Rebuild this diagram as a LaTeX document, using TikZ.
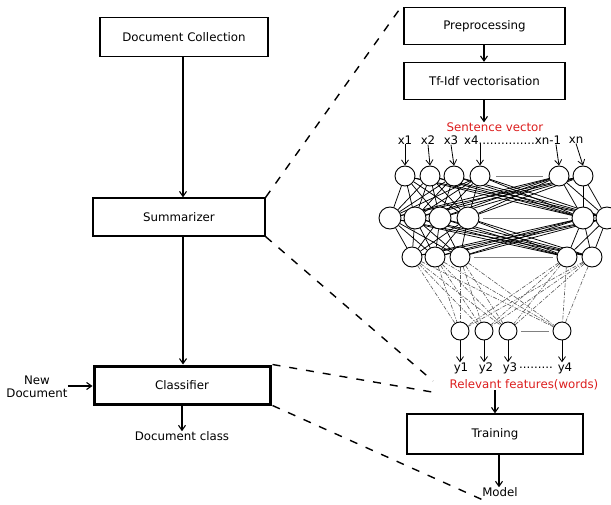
\documentclass[tikz,border=0pt]{standalone}
\usepackage{fontspec}
\setmainfont{DejaVu Sans}
\usetikzlibrary{arrows.meta}
\definecolor{redtxt}{RGB}{220,30,30}
\begin{document}
\begin{tikzpicture}[x=1pt,y=-1pt,
  box/.style={draw,line width=1.3pt,inner sep=0pt},
  arr/.style={-{Straight Barb[length=5pt,width=7pt]},line width=1.1pt},
  neu/.style={circle,draw,line width=0.9pt,fill=white,inner sep=0pt},
  lbl/.style={font=\fontsize{11.8}{13.5}\selectfont,inner sep=0pt},
  redl/.style={lbl,text=redtxt},
  zoomline/.style={dash pattern=on 8pt off 9pt,line width=1.4pt},
  conn/.style={line width=0.75pt},
  conn2/.style={line width=0.6pt,dash pattern=on 4pt off 1.5pt on 1pt off 1.5pt,gray!70!black}]
\useasboundingbox (0,0) rectangle (611,505);
% left column
\node[box,minimum width=168pt,minimum height=39pt,lbl] (dc) at (184,37) {Document Collection};
\node[box,minimum width=172pt,minimum height=38pt,lbl] (sum) at (179,217) {Summarizer};
\node[draw,line width=3pt,inner sep=0pt,minimum width=176pt,minimum height=38pt,lbl] (cls) at (182,385) {Classifier};
\node[lbl,align=center] (newdoc) at (37,387) {New\\Document};
\node[lbl] (dclass) at (182,436) {Document class};
\draw[arr] (dc.south -| 183,0) -- (sum.north -| 183,0);
\draw[arr] (sum.south -| 183,0) -- (cls.north -| 183,0);
\draw[arr] (newdoc.east |- 0,386) -- (cls.west |- 0,386);
\draw[arr] (cls.south -| 182,0) -- (dclass.north -| 182,0);
% right column
\node[box,minimum width=161pt,minimum height=37pt,lbl] (pre) at (484.5,26) {Preprocessing};
\node[box,minimum width=161pt,minimum height=37pt,lbl] (tfidf) at (484.5,81) {Tf-Idf vectorisation};
\draw[arr] (pre.south -| 484,0) -- (tfidf.north -| 484,0);
\node[redl] (sv) at (495,127) {Sentence vector};
\draw[arr] (tfidf.south -| 484,0) -- (sv.north -| 484,0);
% input labels
\node[lbl] (x1) at (405,140) {x1};
\node[lbl] (x2) at (428,140) {x2};
\node[lbl] (x3) at (451,140) {x3};
\node[lbl,anchor=west] (x4) at (464,140) {x4...............xn-1};
\node[lbl] (xn) at (576,140) {xn};
% layer 1
\foreach \i/\x in {1/405,2/430,3/454,4/480,5/559,6/583}
  \node[neu,minimum size=20pt] (a\i) at (\x,176) {};
% layer 2
\foreach \i/\x in {1/390,2/415,3/440,4/468,5/583,6/607}
  \node[neu,minimum size=22pt] (b\i) at (\x,218) {};
% layer 3
\foreach \i/\x in {1/412,2/435,3/460,4/567,5/592}
  \node[neu,minimum size=20pt] (c\i) at (\x,257) {};
% layer 4
\foreach \i/\x in {1/460,2/484,3/508,4/562}
  \node[neu,minimum size=18pt] (d\i) at (\x,331) {};
% connections (behind circles)
\pgfdeclarelayer{bg}\pgfsetlayers{bg,main}
\begin{pgfonlayer}{bg}
\foreach \i in {1,...,6}\foreach \j in {1,...,6}\draw[conn] (a\i) -- (b\j);
\foreach \i in {1,...,6}\foreach \j in {1,...,5}\draw[conn] (b\i) -- (c\j);
\foreach \i in {1,...,5}\foreach \j in {1,...,4}\draw[conn2] (c\i) -- (d\j);
\end{pgfonlayer}
% gap lines
\draw[gray,line width=0.7pt] (a4.east) ++(6,0) -- ([xshift=-6pt]a5.west);
\draw[gray,line width=0.7pt] (b4.east) ++(4,0) -- ([xshift=-4pt]b5.west);
\draw[gray,line width=0.7pt] (c3.east) ++(4,0) -- ([xshift=-4pt]c4.west);
\draw[gray,line width=0.7pt] (d3.east) ++(4,0) -- ([xshift=-4pt]d4.west);
% input arrows
\draw[arr,line width=0.8pt] (x1.south) -- (a1.north);
\draw[arr,line width=0.8pt] (x2.south) -- (a2.north);
\draw[arr,line width=0.8pt] (x3.south) -- (a3.north);
\draw[arr,line width=0.8pt] (x4.south -| a4.north) -- (a4.north);
\draw[arr,line width=0.8pt] ([xshift=-3pt]x4.south -| a5.north) -- (a5.north);
\draw[arr,line width=0.8pt] (xn.south) -- (a6.north);
% outputs
\node[lbl] (y1) at (461,368) {y1};
\node[lbl] (y2) at (486,368) {y2};
\node[lbl] (y3) at (510,368) {y3};
\node[lbl] (ydots) at (536,368) {.........};
\node[lbl] (y4) at (565,368) {y4};
\draw[arr,line width=0.8pt] (d1.south) -- (y1.north -| d1.south);
\draw[arr,line width=0.8pt] (d2.south) -- (y2.north -| d2.south);
\draw[arr,line width=0.8pt] (d3.south) -- (y3.north -| d3.south);
\draw[arr,line width=0.8pt] (d4.south) -- (y4.north -| d4.south);
\node[redl] (rf) at (524,385) {Relevant features(words)};
\node[box,minimum width=176pt,minimum height=40pt,lbl] (train) at (495,434) {Training};
\draw[arr] (rf.south -| 495,0) -- (train.north -| 495,0);
\node[lbl] (model) at (500,492) {Model};
\draw[arr] (train.south -| 499,0) -- (model.north -| 499,0);
% zoom lines
\coordinate (z1) at (399,10);
\coordinate (z2) at (433,381);
\coordinate (z3) at (432,392);
\coordinate (z4) at (483,500);
\draw[zoomline] (sum.north east) -- (z1);
\draw[zoomline] (sum.south east) -- (z2);
\draw[zoomline] (cls.north east) ++(1,0) -- (z3);
\draw[zoomline] (cls.south east) ++(1,0) -- (z4);
\end{tikzpicture}
\end{document}
